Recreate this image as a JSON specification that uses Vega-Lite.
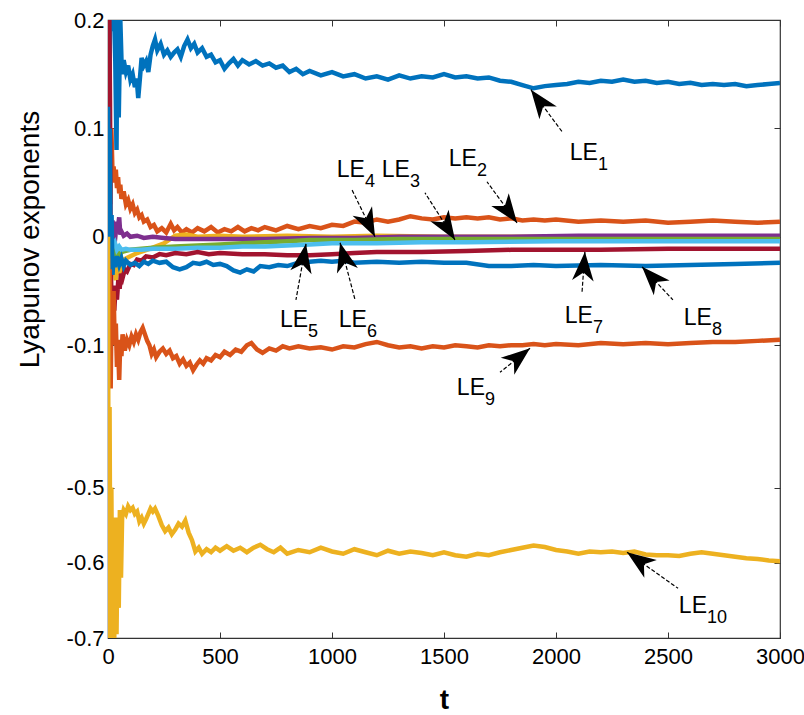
{
"$schema":"https://vega.github.io/schema/vega-lite/v6.json",
"width":672,"height":618,
"autosize":{"type":"none"},
"padding":{"left":108,"top":20,"right":24,"bottom":77},
"background":"white",
"config":{"view":{"stroke":"#333333","strokeWidth":1.2},"font":"Liberation Sans"},
"datasets":{
"lines":[
{"s":"LE1","t":0,"v":0.05},{"s":"LE1","t":3,"v":0.2},{"s":"LE1","t":6,"v":0.13},{"s":"LE1","t":10,"v":0.2},{"s":"LE1","t":20,"v":0.19},{"s":"LE1","t":30,"v":0.2},{"s":"LE1","t":38,"v":0.08},{"s":"LE1","t":42,"v":0.2},{"s":"LE1","t":48,"v":0.11},{"s":"LE1","t":55,"v":0.2},{"s":"LE1","t":62,"v":0.15},{"s":"LE1","t":70,"v":0.163},{"s":"LE1","t":80,"v":0.152},{"s":"LE1","t":90,"v":0.158},{"s":"LE1","t":100,"v":0.145},{"s":"LE1","t":110,"v":0.15},{"s":"LE1","t":120,"v":0.138},{"s":"LE1","t":128,"v":0.146},{"s":"LE1","t":135,"v":0.128},{"s":"LE1","t":142,"v":0.145},{"s":"LE1","t":150,"v":0.165},{"s":"LE1","t":160,"v":0.158},{"s":"LE1","t":170,"v":0.162},{"s":"LE1","t":180,"v":0.152},{"s":"LE1","t":190,"v":0.168},{"s":"LE1","t":200,"v":0.176},{"s":"LE1","t":210,"v":0.182},{"s":"LE1","t":220,"v":0.172},{"s":"LE1","t":235,"v":0.178},{"s":"LE1","t":250,"v":0.168},{"s":"LE1","t":265,"v":0.172},{"s":"LE1","t":280,"v":0.166},{"s":"LE1","t":295,"v":0.17},{"s":"LE1","t":310,"v":0.173},{"s":"LE1","t":325,"v":0.166},{"s":"LE1","t":340,"v":0.176},{"s":"LE1","t":355,"v":0.182},{"s":"LE1","t":370,"v":0.174},{"s":"LE1","t":385,"v":0.178},{"s":"LE1","t":400,"v":0.17},{"s":"LE1","t":420,"v":0.174},{"s":"LE1","t":440,"v":0.166},{"s":"LE1","t":460,"v":0.168},{"s":"LE1","t":480,"v":0.161},{"s":"LE1","t":500,"v":0.163},{"s":"LE1","t":520,"v":0.155},{"s":"LE1","t":540,"v":0.16},{"s":"LE1","t":560,"v":0.164},{"s":"LE1","t":580,"v":0.158},{"s":"LE1","t":600,"v":0.163},{"s":"LE1","t":630,"v":0.159},{"s":"LE1","t":660,"v":0.162},{"s":"LE1","t":690,"v":0.158},{"s":"LE1","t":720,"v":0.16},{"s":"LE1","t":750,"v":0.156},{"s":"LE1","t":780,"v":0.158},{"s":"LE1","t":810,"v":0.152},{"s":"LE1","t":840,"v":0.155},{"s":"LE1","t":870,"v":0.15},{"s":"LE1","t":900,"v":0.153},{"s":"LE1","t":950,"v":0.149},{"s":"LE1","t":1000,"v":0.152},{"s":"LE1","t":1050,"v":0.148},{"s":"LE1","t":1100,"v":0.15},{"s":"LE1","t":1150,"v":0.146},{"s":"LE1","t":1200,"v":0.148},{"s":"LE1","t":1250,"v":0.145},{"s":"LE1","t":1300,"v":0.149},{"s":"LE1","t":1350,"v":0.146},{"s":"LE1","t":1400,"v":0.148},{"s":"LE1","t":1450,"v":0.147},{"s":"LE1","t":1500,"v":0.15},{"s":"LE1","t":1550,"v":0.147},{"s":"LE1","t":1600,"v":0.148},{"s":"LE1","t":1650,"v":0.146},{"s":"LE1","t":1700,"v":0.147},{"s":"LE1","t":1750,"v":0.144},{"s":"LE1","t":1800,"v":0.143},{"s":"LE1","t":1850,"v":0.14},{"s":"LE1","t":1900,"v":0.137},{"s":"LE1","t":1950,"v":0.139},{"s":"LE1","t":2000,"v":0.14},{"s":"LE1","t":2050,"v":0.141},{"s":"LE1","t":2100,"v":0.143},{"s":"LE1","t":2150,"v":0.142},{"s":"LE1","t":2200,"v":0.144},{"s":"LE1","t":2250,"v":0.143},{"s":"LE1","t":2300,"v":0.145},{"s":"LE1","t":2350,"v":0.143},{"s":"LE1","t":2400,"v":0.144},{"s":"LE1","t":2450,"v":0.142},{"s":"LE1","t":2500,"v":0.143},{"s":"LE1","t":2550,"v":0.141},{"s":"LE1","t":2600,"v":0.142},{"s":"LE1","t":2650,"v":0.14},{"s":"LE1","t":2700,"v":0.141},{"s":"LE1","t":2750,"v":0.14},{"s":"LE1","t":2800,"v":0.141},{"s":"LE1","t":2850,"v":0.139},{"s":"LE1","t":2900,"v":0.14},{"s":"LE1","t":2950,"v":0.141},{"s":"LE1","t":3000,"v":0.142},

{"s":"LE2","t":0,"v":-0.02},{"s":"LE2","t":5,"v":0.1},{"s":"LE2","t":10,"v":0.03},{"s":"LE2","t":15,"v":0.1},{"s":"LE2","t":20,"v":0.06},{"s":"LE2","t":25,"v":0.065},{"s":"LE2","t":30,"v":0.05},{"s":"LE2","t":35,"v":0.062},{"s":"LE2","t":40,"v":0.045},{"s":"LE2","t":45,"v":0.055},{"s":"LE2","t":50,"v":0.04},{"s":"LE2","t":55,"v":0.048},{"s":"LE2","t":60,"v":0.035},{"s":"LE2","t":70,"v":0.042},{"s":"LE2","t":80,"v":0.03},{"s":"LE2","t":90,"v":0.034},{"s":"LE2","t":100,"v":0.026},{"s":"LE2","t":110,"v":0.03},{"s":"LE2","t":120,"v":0.022},{"s":"LE2","t":130,"v":0.025},{"s":"LE2","t":140,"v":0.018},{"s":"LE2","t":150,"v":0.02},{"s":"LE2","t":160,"v":0.014},{"s":"LE2","t":175,"v":0.016},{"s":"LE2","t":190,"v":0.009},{"s":"LE2","t":205,"v":0.011},{"s":"LE2","t":220,"v":0.005},{"s":"LE2","t":240,"v":0.008},{"s":"LE2","t":260,"v":0.004},{"s":"LE2","t":280,"v":0.012},{"s":"LE2","t":295,"v":0.006},{"s":"LE2","t":310,"v":0.009},{"s":"LE2","t":330,"v":0.004},{"s":"LE2","t":350,"v":0.007},{"s":"LE2","t":375,"v":0.004},{"s":"LE2","t":400,"v":0.008},{"s":"LE2","t":430,"v":0.005},{"s":"LE2","t":460,"v":0.009},{"s":"LE2","t":490,"v":0.004},{"s":"LE2","t":520,"v":0.007},{"s":"LE2","t":550,"v":0.005},{"s":"LE2","t":580,"v":0.009},{"s":"LE2","t":610,"v":0.005},{"s":"LE2","t":640,"v":0.008},{"s":"LE2","t":670,"v":0.006},{"s":"LE2","t":700,"v":0.009},{"s":"LE2","t":750,"v":0.006},{"s":"LE2","t":800,"v":0.01},{"s":"LE2","t":850,"v":0.007},{"s":"LE2","t":900,"v":0.01},{"s":"LE2","t":950,"v":0.008},{"s":"LE2","t":1000,"v":0.011},{"s":"LE2","t":1050,"v":0.01},{"s":"LE2","t":1100,"v":0.014},{"s":"LE2","t":1150,"v":0.013},{"s":"LE2","t":1200,"v":0.016},{"s":"LE2","t":1250,"v":0.014},{"s":"LE2","t":1300,"v":0.016},{"s":"LE2","t":1350,"v":0.019},{"s":"LE2","t":1400,"v":0.017},{"s":"LE2","t":1450,"v":0.016},{"s":"LE2","t":1500,"v":0.018},{"s":"LE2","t":1550,"v":0.017},{"s":"LE2","t":1600,"v":0.018},{"s":"LE2","t":1650,"v":0.017},{"s":"LE2","t":1700,"v":0.018},{"s":"LE2","t":1750,"v":0.016},{"s":"LE2","t":1800,"v":0.017},{"s":"LE2","t":1850,"v":0.015},{"s":"LE2","t":1900,"v":0.016},{"s":"LE2","t":1950,"v":0.015},{"s":"LE2","t":2000,"v":0.016},{"s":"LE2","t":2100,"v":0.014},{"s":"LE2","t":2200,"v":0.015},{"s":"LE2","t":2300,"v":0.014},{"s":"LE2","t":2400,"v":0.015},{"s":"LE2","t":2500,"v":0.013},{"s":"LE2","t":2600,"v":0.014},{"s":"LE2","t":2700,"v":0.015},{"s":"LE2","t":2800,"v":0.014},{"s":"LE2","t":2900,"v":0.013},{"s":"LE2","t":3000,"v":0.014},

{"s":"LE3","t":0,"v":-0.01},{"s":"LE3","t":8,"v":0.01},{"s":"LE3","t":15,"v":-0.02},{"s":"LE3","t":25,"v":-0.018},{"s":"LE3","t":35,"v":-0.04},{"s":"LE3","t":45,"v":-0.025},{"s":"LE3","t":55,"v":-0.035},{"s":"LE3","t":65,"v":-0.022},{"s":"LE3","t":80,"v":-0.02},{"s":"LE3","t":100,"v":-0.018},{"s":"LE3","t":130,"v":-0.015},{"s":"LE3","t":160,"v":-0.013},{"s":"LE3","t":200,"v":-0.01},{"s":"LE3","t":250,"v":-0.006},{"s":"LE3","t":300,"v":0.001},{"s":"LE3","t":350,"v":0.002},{"s":"LE3","t":400,"v":0.0},{"s":"LE3","t":500,"v":0.001},{"s":"LE3","t":600,"v":0.0},{"s":"LE3","t":800,"v":0.001},{"s":"LE3","t":1000,"v":0.0},{"s":"LE3","t":1200,"v":0.001},{"s":"LE3","t":1500,"v":0.0},{"s":"LE3","t":2000,"v":0.0},{"s":"LE3","t":2500,"v":0.0},{"s":"LE3","t":3000,"v":0.0},

{"s":"LE4","t":0,"v":0.02},{"s":"LE4","t":10,"v":0.0},{"s":"LE4","t":20,"v":0.015},{"s":"LE4","t":30,"v":-0.005},{"s":"LE4","t":40,"v":0.014},{"s":"LE4","t":45,"v":0.01},{"s":"LE4","t":50,"v":0.018},{"s":"LE4","t":55,"v":0.002},{"s":"LE4","t":60,"v":0.005},{"s":"LE4","t":70,"v":0.001},{"s":"LE4","t":85,"v":0.003},{"s":"LE4","t":100,"v":0.0},{"s":"LE4","t":130,"v":0.001},{"s":"LE4","t":160,"v":-0.001},{"s":"LE4","t":200,"v":0.0},{"s":"LE4","t":250,"v":-0.001},{"s":"LE4","t":300,"v":-0.002},{"s":"LE4","t":400,"v":-0.002},{"s":"LE4","t":500,"v":-0.002},{"s":"LE4","t":700,"v":-0.002},{"s":"LE4","t":900,"v":-0.001},{"s":"LE4","t":1100,"v":-0.001},{"s":"LE4","t":1300,"v":0.0},{"s":"LE4","t":1500,"v":0.0},{"s":"LE4","t":1800,"v":0.0},{"s":"LE4","t":2100,"v":0.001},{"s":"LE4","t":2400,"v":0.001},{"s":"LE4","t":2700,"v":0.001},{"s":"LE4","t":3000,"v":0.001},

{"s":"LE5","t":0,"v":-0.005},{"s":"LE5","t":10,"v":-0.02},{"s":"LE5","t":20,"v":-0.01},{"s":"LE5","t":30,"v":-0.024},{"s":"LE5","t":40,"v":-0.013},{"s":"LE5","t":50,"v":-0.02},{"s":"LE5","t":60,"v":-0.014},{"s":"LE5","t":80,"v":-0.013},{"s":"LE5","t":100,"v":-0.012},{"s":"LE5","t":150,"v":-0.011},{"s":"LE5","t":200,"v":-0.01},{"s":"LE5","t":300,"v":-0.009},{"s":"LE5","t":400,"v":-0.008},{"s":"LE5","t":500,"v":-0.007},{"s":"LE5","t":600,"v":-0.006},{"s":"LE5","t":700,"v":-0.005},{"s":"LE5","t":800,"v":-0.004},{"s":"LE5","t":900,"v":-0.003},{"s":"LE5","t":1100,"v":-0.003},{"s":"LE5","t":1300,"v":-0.002},{"s":"LE5","t":1600,"v":-0.002},{"s":"LE5","t":2000,"v":-0.002},{"s":"LE5","t":2500,"v":-0.002},{"s":"LE5","t":3000,"v":-0.002},

{"s":"LE6","t":0,"v":-0.01},{"s":"LE6","t":10,"v":0.0},{"s":"LE6","t":20,"v":-0.008},{"s":"LE6","t":30,"v":-0.005},{"s":"LE6","t":40,"v":-0.012},{"s":"LE6","t":50,"v":-0.009},{"s":"LE6","t":60,"v":-0.012},{"s":"LE6","t":80,"v":-0.011},{"s":"LE6","t":100,"v":-0.012},{"s":"LE6","t":150,"v":-0.012},{"s":"LE6","t":200,"v":-0.011},{"s":"LE6","t":300,"v":-0.011},{"s":"LE6","t":400,"v":-0.01},{"s":"LE6","t":500,"v":-0.01},{"s":"LE6","t":600,"v":-0.009},{"s":"LE6","t":700,"v":-0.009},{"s":"LE6","t":800,"v":-0.008},{"s":"LE6","t":900,"v":-0.007},{"s":"LE6","t":1000,"v":-0.006},{"s":"LE6","t":1200,"v":-0.006},{"s":"LE6","t":1400,"v":-0.005},{"s":"LE6","t":1600,"v":-0.005},{"s":"LE6","t":2000,"v":-0.004},{"s":"LE6","t":2500,"v":-0.004},{"s":"LE6","t":3000,"v":-0.004},

{"s":"LE7","t":0,"v":0.2},{"s":"LE7","t":3,"v":0.12},{"s":"LE7","t":6,"v":0.2},{"s":"LE7","t":9,"v":0.12},{"s":"LE7","t":12,"v":-0.02},{"s":"LE7","t":16,"v":-0.065},{"s":"LE7","t":22,"v":-0.05},{"s":"LE7","t":28,"v":-0.068},{"s":"LE7","t":34,"v":-0.045},{"s":"LE7","t":40,"v":-0.058},{"s":"LE7","t":46,"v":-0.04},{"s":"LE7","t":52,"v":-0.048},{"s":"LE7","t":58,"v":-0.034},{"s":"LE7","t":65,"v":-0.038},{"s":"LE7","t":75,"v":-0.03},{"s":"LE7","t":85,"v":-0.032},{"s":"LE7","t":100,"v":-0.025},{"s":"LE7","t":115,"v":-0.026},{"s":"LE7","t":130,"v":-0.021},{"s":"LE7","t":150,"v":-0.022},{"s":"LE7","t":170,"v":-0.018},{"s":"LE7","t":200,"v":-0.019},{"s":"LE7","t":230,"v":-0.016},{"s":"LE7","t":260,"v":-0.017},{"s":"LE7","t":300,"v":-0.015},{"s":"LE7","t":350,"v":-0.016},{"s":"LE7","t":400,"v":-0.014},{"s":"LE7","t":450,"v":-0.016},{"s":"LE7","t":500,"v":-0.015},{"s":"LE7","t":600,"v":-0.016},{"s":"LE7","t":700,"v":-0.016},{"s":"LE7","t":800,"v":-0.017},{"s":"LE7","t":900,"v":-0.017},{"s":"LE7","t":1000,"v":-0.016},{"s":"LE7","t":1100,"v":-0.015},{"s":"LE7","t":1200,"v":-0.014},{"s":"LE7","t":1400,"v":-0.014},{"s":"LE7","t":1600,"v":-0.013},{"s":"LE7","t":1800,"v":-0.012},{"s":"LE7","t":2000,"v":-0.012},{"s":"LE7","t":2200,"v":-0.012},{"s":"LE7","t":2500,"v":-0.011},{"s":"LE7","t":3000,"v":-0.011},

{"s":"LE8","t":0,"v":0.12},{"s":"LE8","t":4,"v":0.0},{"s":"LE8","t":8,"v":0.1},{"s":"LE8","t":12,"v":-0.03},{"s":"LE8","t":16,"v":0.02},{"s":"LE8","t":20,"v":-0.035},{"s":"LE8","t":25,"v":-0.02},{"s":"LE8","t":30,"v":-0.028},{"s":"LE8","t":40,"v":-0.018},{"s":"LE8","t":50,"v":-0.026},{"s":"LE8","t":60,"v":-0.02},{"s":"LE8","t":70,"v":-0.027},{"s":"LE8","t":80,"v":-0.022},{"s":"LE8","t":100,"v":-0.026},{"s":"LE8","t":120,"v":-0.024},{"s":"LE8","t":140,"v":-0.027},{"s":"LE8","t":160,"v":-0.023},{"s":"LE8","t":180,"v":-0.025},{"s":"LE8","t":200,"v":-0.022},{"s":"LE8","t":230,"v":-0.024},{"s":"LE8","t":260,"v":-0.023},{"s":"LE8","t":290,"v":-0.028},{"s":"LE8","t":320,"v":-0.03},{"s":"LE8","t":350,"v":-0.028},{"s":"LE8","t":380,"v":-0.024},{"s":"LE8","t":410,"v":-0.025},{"s":"LE8","t":440,"v":-0.023},{"s":"LE8","t":470,"v":-0.026},{"s":"LE8","t":500,"v":-0.025},{"s":"LE8","t":530,"v":-0.027},{"s":"LE8","t":560,"v":-0.031},{"s":"LE8","t":590,"v":-0.033},{"s":"LE8","t":620,"v":-0.03},{"s":"LE8","t":650,"v":-0.032},{"s":"LE8","t":680,"v":-0.027},{"s":"LE8","t":720,"v":-0.028},{"s":"LE8","t":760,"v":-0.026},{"s":"LE8","t":800,"v":-0.027},{"s":"LE8","t":850,"v":-0.024},{"s":"LE8","t":900,"v":-0.023},{"s":"LE8","t":950,"v":-0.022},{"s":"LE8","t":1000,"v":-0.023},{"s":"LE8","t":1050,"v":-0.022},{"s":"LE8","t":1100,"v":-0.024},{"s":"LE8","t":1200,"v":-0.023},{"s":"LE8","t":1300,"v":-0.024},{"s":"LE8","t":1400,"v":-0.023},{"s":"LE8","t":1500,"v":-0.024},{"s":"LE8","t":1600,"v":-0.024},{"s":"LE8","t":1700,"v":-0.027},{"s":"LE8","t":1800,"v":-0.027},{"s":"LE8","t":1900,"v":-0.026},{"s":"LE8","t":2000,"v":-0.027},{"s":"LE8","t":2200,"v":-0.026},{"s":"LE8","t":2400,"v":-0.027},{"s":"LE8","t":2600,"v":-0.026},{"s":"LE8","t":2800,"v":-0.025},{"s":"LE8","t":3000,"v":-0.024},

{"s":"LE9","t":0,"v":-0.02},{"s":"LE9","t":4,"v":-0.1},{"s":"LE9","t":8,"v":-0.03},{"s":"LE9","t":12,"v":-0.14},{"s":"LE9","t":16,"v":-0.06},{"s":"LE9","t":20,"v":-0.09},{"s":"LE9","t":25,"v":-0.05},{"s":"LE9","t":30,"v":-0.1},{"s":"LE9","t":35,"v":-0.08},{"s":"LE9","t":40,"v":-0.12},{"s":"LE9","t":45,"v":-0.1},{"s":"LE9","t":50,"v":-0.132},{"s":"LE9","t":55,"v":-0.095},{"s":"LE9","t":60,"v":-0.11},{"s":"LE9","t":65,"v":-0.09},{"s":"LE9","t":75,"v":-0.105},{"s":"LE9","t":85,"v":-0.095},{"s":"LE9","t":95,"v":-0.1},{"s":"LE9","t":105,"v":-0.092},{"s":"LE9","t":115,"v":-0.097},{"s":"LE9","t":125,"v":-0.09},{"s":"LE9","t":135,"v":-0.095},{"s":"LE9","t":145,"v":-0.088},{"s":"LE9","t":155,"v":-0.084},{"s":"LE9","t":165,"v":-0.09},{"s":"LE9","t":175,"v":-0.096},{"s":"LE9","t":185,"v":-0.1},{"s":"LE9","t":195,"v":-0.108},{"s":"LE9","t":205,"v":-0.104},{"s":"LE9","t":215,"v":-0.111},{"s":"LE9","t":230,"v":-0.106},{"s":"LE9","t":245,"v":-0.103},{"s":"LE9","t":260,"v":-0.108},{"s":"LE9","t":275,"v":-0.105},{"s":"LE9","t":290,"v":-0.112},{"s":"LE9","t":305,"v":-0.11},{"s":"LE9","t":320,"v":-0.117},{"s":"LE9","t":335,"v":-0.113},{"s":"LE9","t":350,"v":-0.119},{"s":"LE9","t":365,"v":-0.116},{"s":"LE9","t":380,"v":-0.123},{"s":"LE9","t":395,"v":-0.118},{"s":"LE9","t":410,"v":-0.114},{"s":"LE9","t":425,"v":-0.117},{"s":"LE9","t":440,"v":-0.112},{"s":"LE9","t":460,"v":-0.114},{"s":"LE9","t":480,"v":-0.109},{"s":"LE9","t":500,"v":-0.111},{"s":"LE9","t":520,"v":-0.106},{"s":"LE9","t":545,"v":-0.109},{"s":"LE9","t":570,"v":-0.104},{"s":"LE9","t":595,"v":-0.106},{"s":"LE9","t":620,"v":-0.1},{"s":"LE9","t":640,"v":-0.098},{"s":"LE9","t":665,"v":-0.104},{"s":"LE9","t":690,"v":-0.107},{"s":"LE9","t":720,"v":-0.103},{"s":"LE9","t":750,"v":-0.105},{"s":"LE9","t":780,"v":-0.101},{"s":"LE9","t":810,"v":-0.103},{"s":"LE9","t":850,"v":-0.101},{"s":"LE9","t":900,"v":-0.103},{"s":"LE9","t":950,"v":-0.102},{"s":"LE9","t":1000,"v":-0.104},{"s":"LE9","t":1050,"v":-0.101},{"s":"LE9","t":1100,"v":-0.102},{"s":"LE9","t":1150,"v":-0.099},{"s":"LE9","t":1200,"v":-0.097},{"s":"LE9","t":1250,"v":-0.1},{"s":"LE9","t":1300,"v":-0.102},{"s":"LE9","t":1350,"v":-0.101},{"s":"LE9","t":1400,"v":-0.103},{"s":"LE9","t":1450,"v":-0.101},{"s":"LE9","t":1500,"v":-0.102},{"s":"LE9","t":1550,"v":-0.1},{"s":"LE9","t":1600,"v":-0.101},{"s":"LE9","t":1650,"v":-0.102},{"s":"LE9","t":1700,"v":-0.1},{"s":"LE9","t":1750,"v":-0.101},{"s":"LE9","t":1800,"v":-0.1},{"s":"LE9","t":1850,"v":-0.1},{"s":"LE9","t":1900,"v":-0.099},{"s":"LE9","t":1950,"v":-0.1},{"s":"LE9","t":2000,"v":-0.099},{"s":"LE9","t":2100,"v":-0.1},{"s":"LE9","t":2200,"v":-0.098},{"s":"LE9","t":2300,"v":-0.099},{"s":"LE9","t":2400,"v":-0.098},{"s":"LE9","t":2500,"v":-0.099},{"s":"LE9","t":2600,"v":-0.098},{"s":"LE9","t":2700,"v":-0.097},{"s":"LE9","t":2800,"v":-0.097},{"s":"LE9","t":2900,"v":-0.096},{"s":"LE9","t":3000,"v":-0.095},

{"s":"LE10","t":0,"v":0.0},{"s":"LE10","t":3,"v":-0.7},{"s":"LE10","t":7,"v":-0.3},{"s":"LE10","t":11,"v":-0.7},{"s":"LE10","t":15,"v":-0.5},{"s":"LE10","t":19,"v":-0.69},{"s":"LE10","t":23,"v":-0.55},{"s":"LE10","t":28,"v":-0.7},{"s":"LE10","t":33,"v":-0.54},{"s":"LE10","t":38,"v":-0.695},{"s":"LE10","t":43,"v":-0.56},{"s":"LE10","t":48,"v":-0.66},{"s":"LE10","t":53,"v":-0.53},{"s":"LE10","t":58,"v":-0.62},{"s":"LE10","t":63,"v":-0.54},{"s":"LE10","t":70,"v":-0.53},{"s":"LE10","t":80,"v":-0.535},{"s":"LE10","t":90,"v":-0.525},{"s":"LE10","t":100,"v":-0.53},{"s":"LE10","t":110,"v":-0.527},{"s":"LE10","t":120,"v":-0.535},{"s":"LE10","t":130,"v":-0.532},{"s":"LE10","t":140,"v":-0.545},{"s":"LE10","t":150,"v":-0.54},{"s":"LE10","t":160,"v":-0.548},{"s":"LE10","t":170,"v":-0.542},{"s":"LE10","t":180,"v":-0.535},{"s":"LE10","t":190,"v":-0.528},{"s":"LE10","t":200,"v":-0.532},{"s":"LE10","t":210,"v":-0.528},{"s":"LE10","t":225,"v":-0.538},{"s":"LE10","t":240,"v":-0.55},{"s":"LE10","t":255,"v":-0.558},{"s":"LE10","t":270,"v":-0.553},{"s":"LE10","t":285,"v":-0.562},{"s":"LE10","t":300,"v":-0.556},{"s":"LE10","t":315,"v":-0.548},{"s":"LE10","t":330,"v":-0.552},{"s":"LE10","t":345,"v":-0.544},{"s":"LE10","t":360,"v":-0.56},{"s":"LE10","t":375,"v":-0.57},{"s":"LE10","t":390,"v":-0.585},{"s":"LE10","t":405,"v":-0.58},{"s":"LE10","t":420,"v":-0.588},{"s":"LE10","t":440,"v":-0.582},{"s":"LE10","t":460,"v":-0.586},{"s":"LE10","t":480,"v":-0.58},{"s":"LE10","t":500,"v":-0.584},{"s":"LE10","t":530,"v":-0.578},{"s":"LE10","t":560,"v":-0.584},{"s":"LE10","t":590,"v":-0.58},{"s":"LE10","t":620,"v":-0.586},{"s":"LE10","t":650,"v":-0.58},{"s":"LE10","t":680,"v":-0.576},{"s":"LE10","t":710,"v":-0.582},{"s":"LE10","t":740,"v":-0.586},{"s":"LE10","t":770,"v":-0.58},{"s":"LE10","t":800,"v":-0.588},{"s":"LE10","t":850,"v":-0.583},{"s":"LE10","t":900,"v":-0.586},{"s":"LE10","t":950,"v":-0.58},{"s":"LE10","t":1000,"v":-0.585},{"s":"LE10","t":1050,"v":-0.588},{"s":"LE10","t":1100,"v":-0.582},{"s":"LE10","t":1150,"v":-0.586},{"s":"LE10","t":1200,"v":-0.59},{"s":"LE10","t":1250,"v":-0.584},{"s":"LE10","t":1300,"v":-0.588},{"s":"LE10","t":1350,"v":-0.585},{"s":"LE10","t":1400,"v":-0.587},{"s":"LE10","t":1450,"v":-0.59},{"s":"LE10","t":1500,"v":-0.586},{"s":"LE10","t":1550,"v":-0.59},{"s":"LE10","t":1600,"v":-0.592},{"s":"LE10","t":1650,"v":-0.588},{"s":"LE10","t":1700,"v":-0.59},{"s":"LE10","t":1750,"v":-0.586},{"s":"LE10","t":1800,"v":-0.583},{"s":"LE10","t":1850,"v":-0.58},{"s":"LE10","t":1900,"v":-0.577},{"s":"LE10","t":1950,"v":-0.579},{"s":"LE10","t":2000,"v":-0.583},{"s":"LE10","t":2050,"v":-0.585},{"s":"LE10","t":2100,"v":-0.588},{"s":"LE10","t":2150,"v":-0.585},{"s":"LE10","t":2200,"v":-0.586},{"s":"LE10","t":2250,"v":-0.585},{"s":"LE10","t":2300,"v":-0.587},{"s":"LE10","t":2350,"v":-0.585},{"s":"LE10","t":2400,"v":-0.589},{"s":"LE10","t":2450,"v":-0.59},{"s":"LE10","t":2500,"v":-0.59},{"s":"LE10","t":2550,"v":-0.591},{"s":"LE10","t":2600,"v":-0.588},{"s":"LE10","t":2650,"v":-0.586},{"s":"LE10","t":2700,"v":-0.588},{"s":"LE10","t":2750,"v":-0.59},{"s":"LE10","t":2800,"v":-0.592},{"s":"LE10","t":2850,"v":-0.594},{"s":"LE10","t":2900,"v":-0.595},{"s":"LE10","t":2950,"v":-0.597},{"s":"LE10","t":3000,"v":-0.598}
],
"ann":[
{"sub":"1","t":1888,"v":0.1357,"t2":2027,"v2":0.097,"lt":2187,"lv":0.0711},
{"sub":"2","t":1826,"v":0.0129,"t2":1692,"v2":0.0508,"lt":1647,"lv":0.0656},
{"sub":"3","t":1549,"v":-0.0028,"t2":1415,"v2":0.0406,"lt":1348,"lv":0.0554},
{"sub":"4","t":1192,"v":0.0,"t2":1089,"v2":0.0434,"lt":1147,"lv":0.0554},
{"sub":"5","t":884,"v":-0.0065,"t2":839,"v2":-0.0582,"lt":893,"lv":-0.0831},
{"sub":"6","t":1036,"v":-0.0055,"t2":1103,"v2":-0.0582,"lt":1156,"lv":-0.0831},
{"sub":"7","t":2129,"v":-0.0139,"t2":2116,"v2":-0.0517,"lt":2165,"lv":-0.0794},
{"sub":"8","t":2384,"v":-0.0277,"t2":2522,"v2":-0.0582,"lt":2696,"lv":-0.0813},
{"sub":"9","t":1884,"v":-0.1028,"t2":1750,"v2":-0.125,"lt":1683,"lv":-0.146},
{"sub":"10","t":2317,"v":-0.586,"t2":2545,"v2":-0.634,"lt":2674,"lv":-0.667}
]
},
"resolve":{"axis":{"x":"independent","y":"independent"}},
"layer":[
{"data":{"name":"lines"},
 "mark":{"type":"line","strokeWidth":4.5,"clip":true},
 "encoding":{
  "x":{"field":"t","type":"quantitative","scale":{"domain":[0,3000],"nice":false,"zero":false},
       "axis":{"orient":"bottom","values":[0,500,1000,1500,2000,2500,3000],"format":"d","grid":false,
               "tickSize":-6,"tickColor":"#333333","domainColor":"#333333","labelColor":"black","labelFontSize":22,"labelPadding":14,
               "labelFlush":false,"labelOverlap":false,
               "title":"t","titleFontSize":28,"titleFontWeight":"bold","titleColor":"black","titleX":336,"titleY":70,"titleBaseline":"alphabetic","titleAlign":"center"}},
  "y":{"field":"v","type":"quantitative","scale":{"domain":[-0.7,-0.393,-0.157,0.2],"range":[618,387,387,0],"nice":false,"zero":false},
       "axis":{"orient":"left","values":[0.2,0.1,0,-0.1,-0.5,-0.6,-0.7],"grid":false,
               "labelExpr":"datum.value == 0 ? '0' : (datum.value < 0 ? '-' + format(-datum.value, '.1f') : format(datum.value, '.1f'))",
               "tickSize":-6,"tickColor":"#333333","domainColor":"#333333","labelColor":"black","labelFontSize":22,"labelPadding":10,"labelOverlap":false,
               "title":"Lyapunov exponents","titleFontSize":28,"titleFontWeight":"normal","titleColor":"black","titleAngle":-90,"titleX":-70,"titleY":219,"titleAlign":"center","titleBaseline":"alphabetic"}},
  "color":{"field":"s","type":"nominal","legend":null,
           "scale":{"domain":["LE1","LE2","LE3","LE4","LE5","LE6","LE7","LE8","LE9","LE10"],
                    "range":["#0072BD","#D95319","#EDB120","#7E2F8E","#77AC30","#4DBEEE","#A2142F","#0072BD","#D95319","#EDB120"]}}
 }},
{"data":{"name":"ann"},
 "mark":{"type":"rule","color":"black","strokeWidth":1.2,"strokeDash":[4,2]},
 "encoding":{
  "x":{"field":"t","type":"quantitative","axis":{"orient":"top","values":[0,500,1000,1500,2000,2500,3000],"labels":false,"domain":false,"grid":false,"tickSize":-6,"tickColor":"#333333","title":null}},
  "y":{"field":"v","type":"quantitative","axis":{"orient":"right","values":[0.2,0.1,0,-0.1,-0.5,-0.6,-0.7],"labels":false,"domain":false,"grid":false,"tickSize":-6,"tickColor":"#333333","title":null}},
  "x2":{"field":"t2"},"y2":{"field":"v2"}
 }},
{"data":{"name":"ann"},
 "mark":{"type":"point","shape":"M0,0L0.6,1.6L0,1.15L-0.6,1.6Z","filled":true,"color":"black","opacity":1,"size":1300,"strokeWidth":0,
         "angle":{"expr":"atan2(scale('x', datum.t) - scale('x', datum.t2), scale('y', datum.v2) - scale('y', datum.v)) * 180 / PI"}},
 "encoding":{
  "x":{"field":"t","type":"quantitative","axis":null},
  "y":{"field":"v","type":"quantitative","axis":null}
 }},
{"data":{"name":"ann"},
 "mark":{"type":"text","text":"LE","align":"right","baseline":"alphabetic","fontSize":23,"color":"black"},
 "encoding":{
  "x":{"field":"lt","type":"quantitative","axis":null},
  "y":{"field":"lv","type":"quantitative","axis":null}
 }},
{"data":{"name":"ann"},
 "mark":{"type":"text","align":"left","baseline":"alphabetic","fontSize":18,"dy":10,"color":"black"},
 "encoding":{
  "x":{"field":"lt","type":"quantitative","axis":null},
  "y":{"field":"lv","type":"quantitative","axis":null},
  "text":{"field":"sub"}
 }}
]
}
